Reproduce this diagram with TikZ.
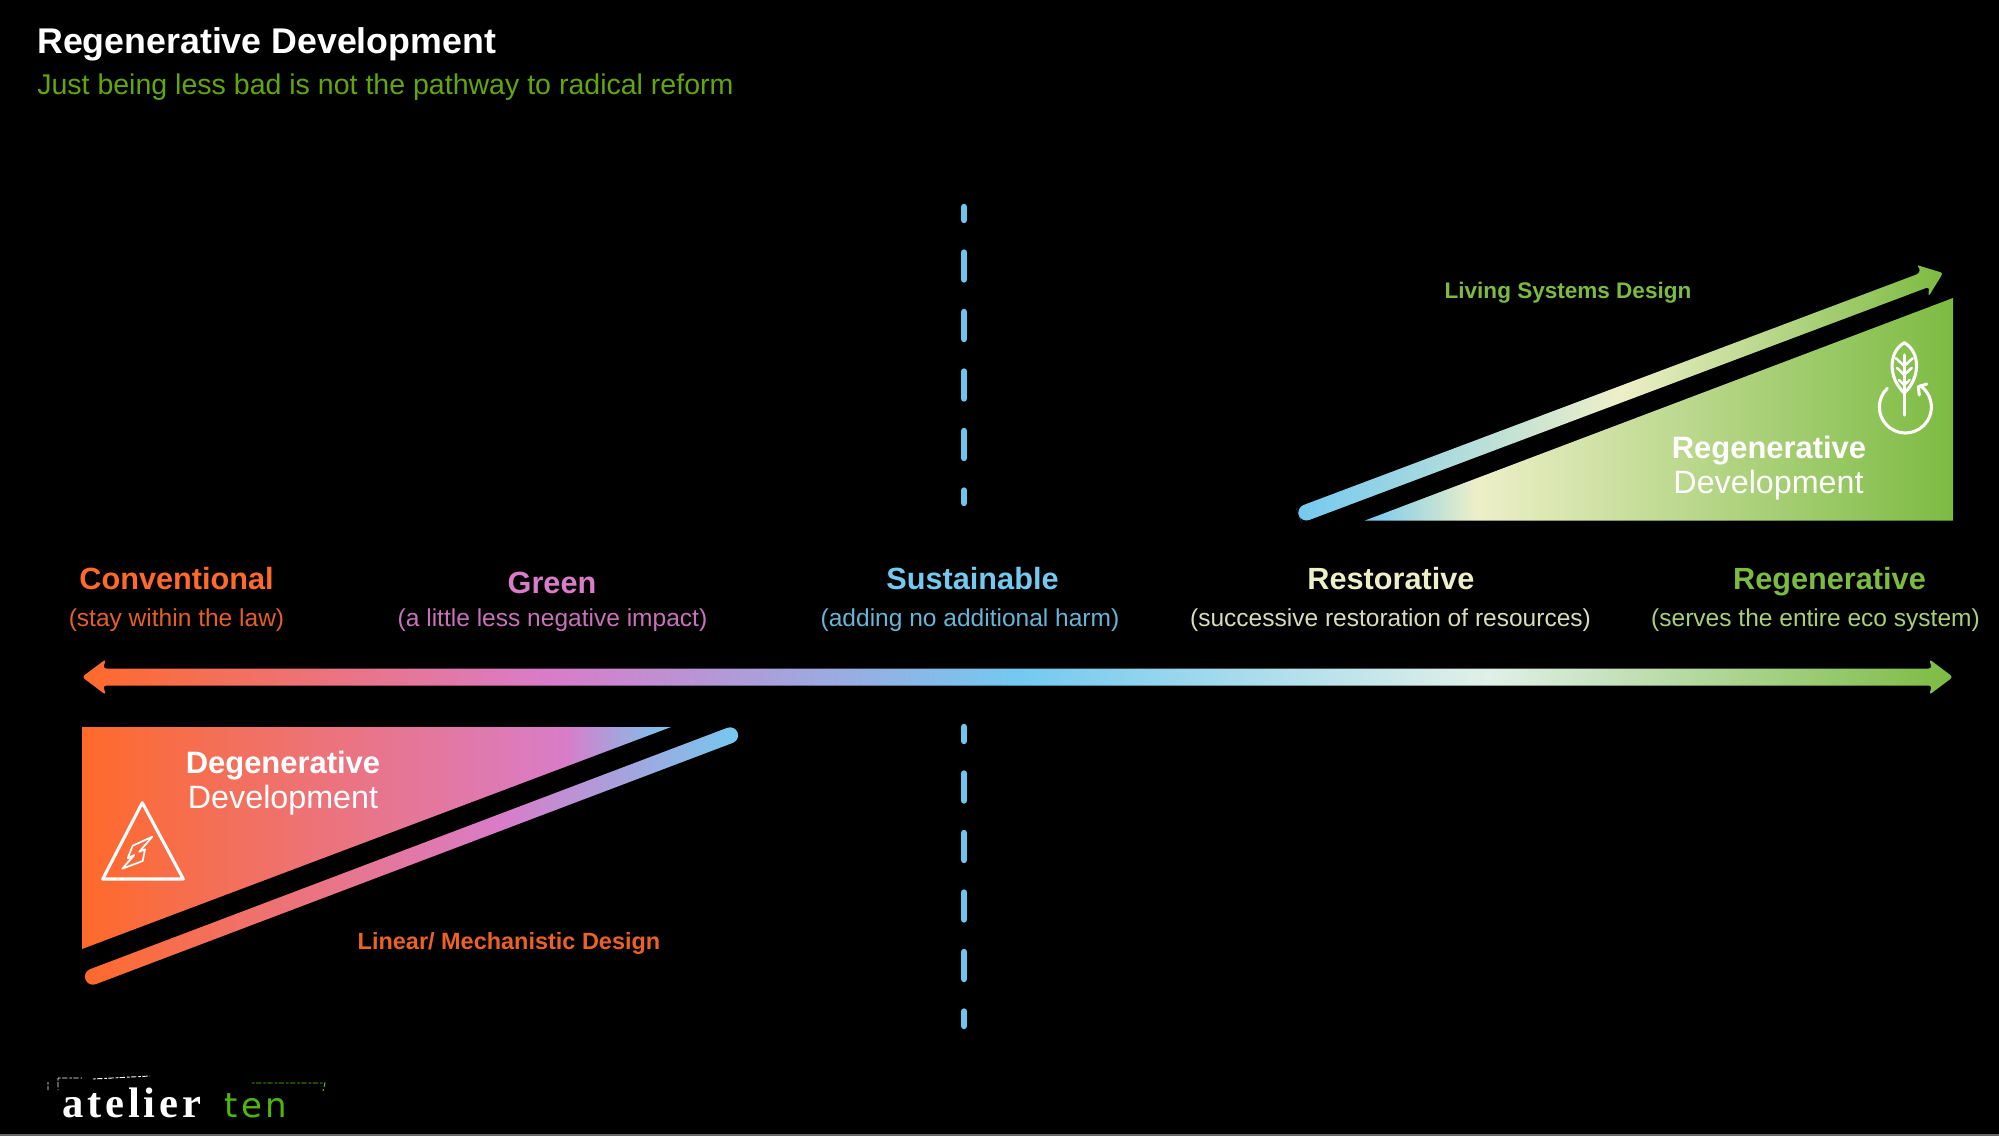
\documentclass[tikz,border=0pt]{standalone}
\usepackage{fontspec}
\setmainfont{Liberation Sans}
\newfontfamily\logofont[LetterSpace=9]{Liberation Serif}
\newfontfamily\tenfont[LetterSpace=11]{DejaVu Sans}
\usetikzlibrary{arrows}

\definecolor{tenOrange}{HTML}{FF6A2B}
\definecolor{tenPink}{HTML}{D97CC9}
\definecolor{tenBlue}{HTML}{74C9F0}
\definecolor{tenPale}{HTML}{E0F0E8}
\definecolor{tenCream}{HTML}{EDEFC8}
\definecolor{tenGreen}{HTML}{7CBB42}
\definecolor{tenLime}{HTML}{62A60C}
\definecolor{tenDash}{HTML}{6EC6EE}

\pgfdeclarehorizontalshading{axisshade}{100bp}{color(0bp)=(tenOrange); color(25bp)=(tenOrange); color(37.4bp)=(tenPink); color(50bp)=(tenBlue); color(62.6bp)=(tenPale); color(75bp)=(tenGreen); color(100bp)=(tenGreen)}
\pgfdeclarehorizontalshading{upbarshade}{100bp}{color(0bp)=(tenBlue); color(25bp)=(tenBlue); color(50bp)=(tenCream); color(75bp)=(tenGreen); color(100bp)=(tenGreen)}
\pgfdeclarehorizontalshading{upwedgeshade}{100bp}{color(0bp)=(tenBlue); color(25bp)=(tenBlue); color(34.5bp)=(tenCream); color(75bp)=(tenGreen); color(100bp)=(tenGreen)}
\pgfdeclarehorizontalshading{downbarshade}{100bp}{color(0bp)=(tenOrange); color(25bp)=(tenOrange); color(57bp)=(tenPink); color(75bp)=(tenBlue); color(100bp)=(tenBlue)}
\pgfdeclarehorizontalshading{downwedgeshade}{100bp}{color(0bp)=(tenOrange); color(25bp)=(tenOrange); color(66bp)=(tenPink); color(75bp)=(tenBlue); color(100bp)=(tenBlue)}

\tikzset{
  label base/.style={anchor=base,inner sep=0pt},
  heading/.style={label base,font=\fontsize{23}{26}\selectfont\bfseries},
  remark/.style={label base,font=\fontsize{18.4}{22}\selectfont},
  boxhead/.style={label base,white,font=\fontsize{23.2}{27}\selectfont\bfseries},
  boxtail/.style={label base,white,font=\fontsize{24.2}{28}\selectfont},
  designtag/.style={label base,font=\fontsize{17.2}{20}\selectfont\bfseries},
  iconline/.style={white,line width=2.3pt,line join=round,line cap=round},
  dashline/.style={tenDash,line width=4.8pt,line cap=round,dash pattern=on 20.25pt off 24.375pt},
  logomark/.style={line width=0.7pt,dash pattern=on 2pt off 1pt on 4pt off 1.5pt}
}

\begin{document}
\begin{tikzpicture}[x=0.75pt,y=0.75pt,yscale=-1,xscale=1]

%Background
\fill[black] (0,0) rectangle (1999,1136);
\fill[black!60] (0,1134) rectangle (1999,1136);

%Straight Lines: dashed divider
\coordinate (divTopA) at (964,207);
\coordinate (divTopB) at (964,503);
\coordinate (divLowA) at (964,727);
\coordinate (divLowB) at (964,1026);
\draw[dashline,dash phase=10.5pt] (divTopA) -- (divTopB);
\draw[dashline,dash phase=9.75pt] (divLowA) -- (divLowB);

%Shape: main axis arrow
\shade[shading=axisshade,rounded corners=2.4pt] (82,677) -- (106,659) -- (103,668.5) -- (1932,668.5) -- (1929,659) -- (1953,677) -- (1929,695) -- (1932,685.5) -- (103,685.5) -- (106,695) -- cycle;

%Shape: upper wedge
\shade[shading=upwedgeshade] (1365,520.5) -- (1953,298) -- (1953,520.5) -- cycle;
%Shape: upper bar with arrow head
\shade[shading=upbarshade] (1298.9,515.3) [rounded corners=6pt] -- (1296.1,507.8) -- (1923.4,271.9) [rounded corners=2pt] -- (1916.4,264.9) -- (1943,273) -- (1928.4,296.7) -- (1929,286.9) [rounded corners=6pt] -- (1301.7,522.8) -- cycle;

%Shape: lower wedge
\shade[shading=downwedgeshade] (82,727) -- (671,727) -- (82,949) -- cycle;
%Shape: lower bar
\shade[shading=downbarshade,rounded corners=6pt] (88.3,987) -- (82.6,972) -- (734.7,725) -- (740.4,740) -- cycle;

%Shape: leaf icon
\draw[iconline] (1904.3,342.7) .. controls (1888,352) and (1888,378) .. (1904.3,393) .. controls (1920.6,378) and (1920.6,352) .. (1904.3,342.7) -- cycle;
\draw[iconline] (1904.3,355) -- (1904.3,415);
\draw[iconline,line width=1.9pt] (1896,358.3) -- (1904.3,366) -- (1912.6,358.3);
\draw[iconline,line width=1.9pt] (1897,368) -- (1904.3,375) -- (1911.6,368);
\draw[iconline,line width=1.9pt] (1899,380) -- (1904.3,385) -- (1909.6,380);
\draw[iconline] (1887.3,388.3) arc[start angle=226,end angle=-54,radius=26];
\draw[iconline] (1926.7,384) -- (1918.3,386.7) -- (1919.3,395);

%Shape: warning icon
\draw[iconline] (142.3,802.7) -- (183.3,879) -- (102.7,879) -- cycle;
\draw[iconline,line width=1.3pt] (152.3,836.7) -- (132.7,845.7) -- (127.7,858.3) -- (134.3,855) -- (122.3,868.7) -- (142.7,861) -- (145,849.3) -- (139.3,851.7) -- cycle;

% Text Node
\node (mainTitle) [label base,anchor=base west,white,font=\fontsize{26.8}{30}\selectfont\bfseries] at (37,53) {Regenerative Development};
\node (mainSub) [label base,anchor=base west,tenLime,font=\fontsize{21.4}{25}\selectfont] at (37,94) {Just being less bad is not the pathway to radical reform};

% Text Node
\node (convHead) [heading,tenOrange] at (176.5,589) {Conventional};
\node (convNote) [remark,tenOrange!90!black] at (176.5,626) {(stay within the law)};
\node (greenHead) [heading,tenPink] at (552,593) {Green};
\node (greenNote) [remark,tenPink!92!black] at (552.5,626) {(a little less negative impact)};
\node (sustHead) [heading,tenBlue] at (972.5,589) {Sustainable};
\node (sustNote) [remark,tenBlue!90!black] at (970,626) {(adding no additional harm)};
\node (restHead) [heading,tenCream] at (1391,589) {Restorative};
\node (restNote) [remark,tenCream!92!black] at (1390.5,626) {(successive restoration of resources)};
\node (regenHead) [heading,tenGreen] at (1829.5,589) {Regenerative};
\node (regenNote) [remark,tenGreen!60!tenCream] at (1815.5,626) {(serves the entire eco system)};

% Text Node
\node (livingTag) [designtag,tenGreen,font=\fontsize{16.9}{20}\selectfont\bfseries] at (1568,298) {Living Systems Design};
\node (linearTag) [designtag,tenOrange!92!black,font=\fontsize{17.6}{20}\selectfont\bfseries] at (509,949) {Linear/ Mechanistic Design};
\node (regenBoxA) [boxhead] at (1769,458) {Regenerative};
\node (regenBoxB) [boxtail] at (1768.5,493) {Development};
\node (degenBoxA) [boxhead] at (283,773) {Degenerative};
\node (degenBoxB) [boxtail] at (283,808) {Development};

% Text Node
\node (logoA) [label base,anchor=base west,white,font=\logofont\fontsize{32}{36}\selectfont\bfseries] at (62,1117) {atelier};
\node (logoB) [label base,anchor=base west,tenLime!80!green,font=\tenfont\fontsize{25.5}{28}\selectfont] at (224,1117) {ten};

%Straight Lines: rough marks over the logo
\draw[white,logomark] (48,1082) -- (48,1090) (58,1078) -- (58,1090) (58,1078) -- (82,1078) (93,1079) -- (150,1076);
\draw[lime!60!green!80!black,logomark] (252,1083) -- (325,1083) -- (323,1091);

\end{tikzpicture}
\end{document}
